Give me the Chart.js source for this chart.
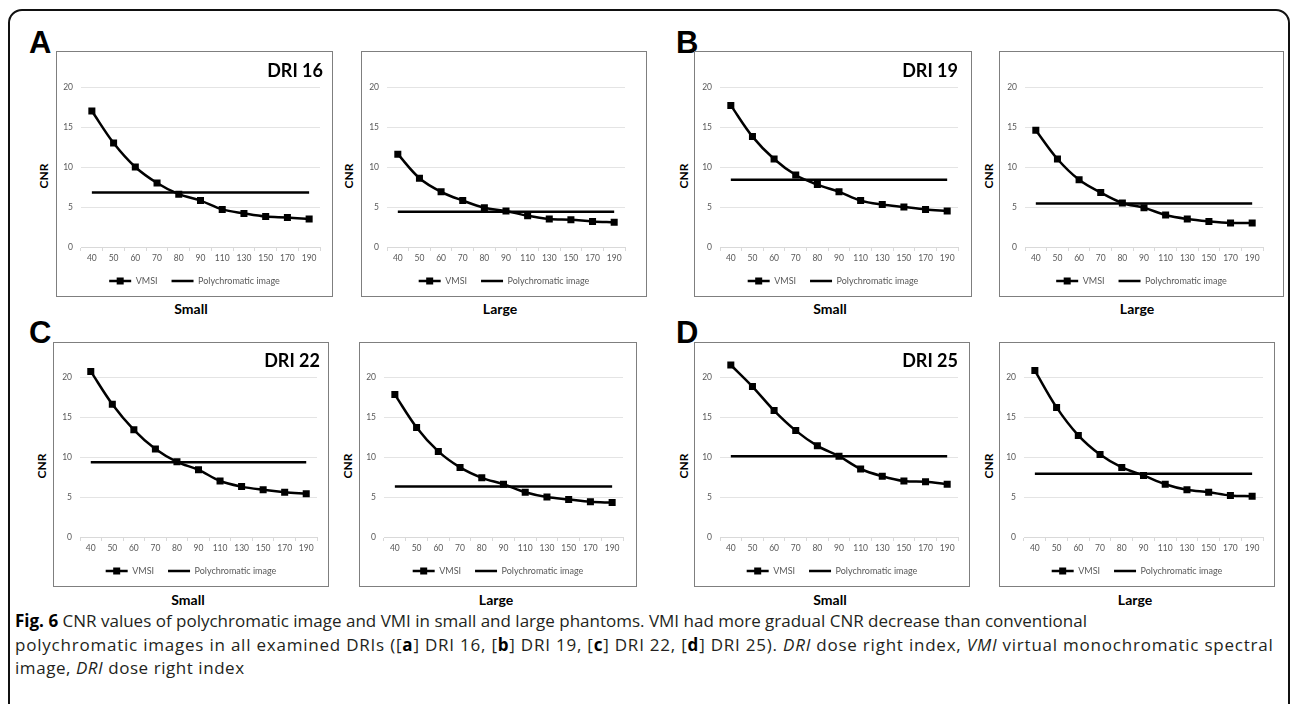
<!DOCTYPE html>
<html>
<head>
<meta charset="utf-8">
<script src="https://cdn.jsdelivr.net/npm/chart.js@4/dist/chart.umd.min.js"></script>
<style>
  body { margin: 0; width: 1292px; height: 704px; position: relative; overflow: hidden; background: #fff; font-family: Lato, sans-serif; }
  .frame { position: absolute; left: 8px; top: 9px; width: 1282px; height: 740px; border: 2px solid #111; border-radius: 14px; box-sizing: border-box; }
  .box { position: absolute; border: 1px solid #7f7f7f; box-sizing: border-box; background: #fff; }
  .box canvas { position: absolute; left: 0; top: 0; }
  .letter { position: absolute; font: bold 31px "Liberation Sans", Arial, sans-serif; line-height: 31px; color: #000; }
  .dri { position: absolute; width: 120px; font: bold 18px Lato; line-height: 18px; text-align: right; color: #000; white-space: nowrap; }
  .cnr { position: absolute; width: 40px; height: 16px; font: bold 12px Lato; line-height: 16px; text-align: center; color: #000; transform: rotate(-90deg); }
  .size { position: absolute; width: 100px; font: bold 14px Lato; line-height: 14px; text-align: center; color: #000; }
  .caption { position: absolute; left: 15px; top: 609px; font: 17px "Open Sans", sans-serif; line-height: 23.5px; color: #231f20; white-space: nowrap; }
  .caption b { color: #000; }
</style>
</head>
<body>
<div class="frame"></div>

<div class="letter" style="left:29px;top:27px">A</div>
<div class="letter" style="left:676px;top:27px">B</div>
<div class="letter" style="left:29px;top:317px">C</div>
<div class="letter" style="left:676px;top:317px">D</div>

<div class="caption">
  <div><b>Fig. 6</b> CNR values of polychromatic image and VMI in small and large phantoms. VMI had more gradual CNR decrease than conventional</div>
  <div style="letter-spacing:0.78px">polychromatic images in all examined DRIs ([<b>a</b>] DRI 16, [<b>b</b>] DRI 19, [<b>c</b>] DRI 22, [<b>d</b>] DRI 25). <i>DRI</i> dose right index, <i>VMI</i> virtual monochromatic spectral</div>
  <div style="letter-spacing:0.55px">image, <i>DRI</i> dose right index</div>
</div>

<script>
// keV levels on the x axis
const energies = ['40', '50', '60', '70', '80', '90', '110', '130', '150', '170', '190'];
const cnrTicks = [0, 5, 10, 15, 20];

// VMSI CNR, small / large phantom, per DRI
const vmsiSmall16 = [17.0, 13.0, 10.0, 8.0, 6.6, 5.8, 4.7, 4.2, 3.8, 3.7, 3.5];
const vmsiLarge16 = [11.6, 8.6, 6.9, 5.8, 4.9, 4.5, 3.9, 3.5, 3.4, 3.2, 3.1];
const vmsiSmall19 = [17.7, 13.8, 11.0, 9.0, 7.8, 6.9, 5.8, 5.3, 5.0, 4.7, 4.5];
const vmsiLarge19 = [14.6, 11.0, 8.4, 6.8, 5.5, 4.9, 4.0, 3.5, 3.2, 3.0, 3.0];
const vmsiSmall22 = [20.7, 16.6, 13.4, 11.0, 9.4, 8.4, 7.0, 6.3, 5.9, 5.6, 5.4];
const vmsiLarge22 = [17.8, 13.7, 10.7, 8.7, 7.4, 6.6, 5.6, 5.0, 4.7, 4.4, 4.3];
const vmsiSmall25 = [21.5, 18.8, 15.8, 13.3, 11.4, 10.1, 8.5, 7.6, 7.0, 6.9, 6.6];
const vmsiLarge25 = [20.8, 16.2, 12.7, 10.3, 8.7, 7.7, 6.6, 5.9, 5.6, 5.2, 5.1];

// polychromatic image CNR (one value, same at every keV)
const polySmall16 = [6.8, 6.8, 6.8, 6.8, 6.8, 6.8, 6.8, 6.8, 6.8, 6.8, 6.8];
const polyLarge16 = [4.4, 4.4, 4.4, 4.4, 4.4, 4.4, 4.4, 4.4, 4.4, 4.4, 4.4];
const polySmall19 = [8.4, 8.4, 8.4, 8.4, 8.4, 8.4, 8.4, 8.4, 8.4, 8.4, 8.4];
const polyLarge19 = [5.45, 5.45, 5.45, 5.45, 5.45, 5.45, 5.45, 5.45, 5.45, 5.45, 5.45];
const polySmall22 = [9.35, 9.35, 9.35, 9.35, 9.35, 9.35, 9.35, 9.35, 9.35, 9.35, 9.35];
const polyLarge22 = [6.3, 6.3, 6.3, 6.3, 6.3, 6.3, 6.3, 6.3, 6.3, 6.3, 6.3];
const polySmall25 = [10.1, 10.1, 10.1, 10.1, 10.1, 10.1, 10.1, 10.1, 10.1, 10.1, 10.1];
const polyLarge25 = [7.9, 7.9, 7.9, 7.9, 7.9, 7.9, 7.9, 7.9, 7.9, 7.9, 7.9];

const panelTitles = ['DRI 16', '', 'DRI 19', '', 'DRI 22', '', 'DRI 25', ''];
const phantomNames = ['Small', 'Large', 'Small', 'Large', 'Small', 'Large', 'Small', 'Large'];

// layout: box [left, top, right, bottom], plot x range, label positions
const boxes = [
  [56, 51, 332, 296], [361, 51, 646, 296], [694, 51, 971, 296], [999, 51, 1283, 296],
  [53, 342, 328, 586], [359, 342, 636, 586], [694, 342, 969, 586], [999, 342, 1274, 586]
];
const plotX = [
  [81, 320], [387, 625], [720, 958], [1025, 1263],
  [80, 317], [384, 623], [720, 958], [1024, 1263]
];
const cnrX = [44, 349, 684, 989, 42, 348, 684, 989];
const titleRight = [323, 0, 958, 0, 320, 0, 958, 0];
const nameX = [191, 500, 830, 1137, 188, 496, 830, 1135];
const rowY = [{ y20: 87, y0: 247, title: 61, cnr: 176, name: 302 }, { y20: 377, y0: 537, title: 351, cnr: 466, name: 593 }];

const yMax = 22.5; // room above the top tick for values past 20
const xAxisHeight = 15.5;
const legendHeight = 33; // font 9 + padding 14 + 10
const legendLine = 22;

// square marker on the VMSI legend line
const legendMarker = {
  id: 'legendMarker',
  afterDraw(chart) {
    const hb = chart.legend.legendHitBoxes[0];
    const ctx = chart.ctx;
    ctx.save();
    ctx.fillStyle = '#000';
    ctx.fillRect(hb.left + legendLine / 2 - 3.5, hb.top + 4.5 - 3.5, 7, 7);
    ctx.restore();
  }
};

function addDiv(cls, text, style) {
  const d = document.createElement('div');
  d.className = cls;
  d.textContent = text;
  Object.assign(d.style, style);
  document.body.append(d);
}

function makeChart(i, vmsi, poly) {
  const [l, t, r, b] = boxes[i];
  const row = rowY[i < 4 ? 0 : 1];
  const w = r - l - 1, h = b - t - 1;
  const box = document.createElement('div');
  box.className = 'box';
  Object.assign(box.style, { left: l + 'px', top: t + 'px', width: (r - l + 1) + 'px', height: (b - t + 1) + 'px' });
  const canvas = document.createElement('canvas');
  canvas.width = w;
  canvas.height = h;
  box.append(canvas);
  document.body.append(box);

  const unit = (row.y0 - row.y20) / cnrTicks[cnrTicks.length - 1];
  const yWidth = plotX[i][0] - (l + 1);
  const rightPad = w - (plotX[i][1] - (l + 1));
  const padTop = row.y20 - (t + 1) - (yMax - cnrTicks[cnrTicks.length - 1]) * unit;
  const padBottom = h - (row.y0 - (t + 1)) - xAxisHeight - legendHeight;

  new Chart(canvas, {
    type: 'line',
    data: {
      labels: energies,
      datasets: [{
        label: 'VMSI',
        data: vmsi,
        yAxisID: 'y',
        borderColor: '#000',
        backgroundColor: '#000',
        borderWidth: 2.5,
        tension: 0.35,
        pointStyle: 'rect',
        pointRadius: 3.2,
        pointBorderWidth: 2.5,
        pointBorderColor: '#000',
        pointBackgroundColor: '#000',
        clip: false
      }, {
        label: 'Polychromatic image',
        data: poly,
        yAxisID: 'y',
        borderColor: '#000',
        backgroundColor: '#000',
        borderWidth: 2.5,
        pointRadius: 0,
        pointBorderWidth: 2.5,
        pointBorderColor: '#000'
      }]
    },
    options: {
      responsive: false,
      animation: false,
      devicePixelRatio: 1,
      layout: { padding: { top: padTop, bottom: padBottom, left: 0, right: 0 } },
      scales: {
        x: {
          offset: true,
          grid: { display: true, drawOnChartArea: false, drawTicks: true, tickLength: 4, offset: true, color: '#d9d9d9' },
          border: { display: true, color: '#d9d9d9' },
          ticks: { padding: 2, color: '#595959', font: { family: 'Lato', size: 8.5 }, maxRotation: 0, autoSkip: false },
          afterFit(s) { s.height = xAxisHeight; }
        },
        y: {
          min: cnrTicks[0],
          max: yMax,
          afterBuildTicks(s) { s.ticks = cnrTicks.map(v => ({ value: v })); },
          grid: { color: '#e4e4e4', drawTicks: false },
          border: { display: false },
          ticks: { padding: 8, color: '#595959', font: { family: 'Lato', size: 8.5 } },
          afterFit(s) { s.width = yWidth; }
        },
        y2: {
          position: 'right',
          grid: { display: false },
          border: { display: false },
          ticks: { display: false },
          afterFit(s) { s.width = rightPad; }
        }
      },
      plugins: {
        tooltip: { enabled: false },
        legend: {
          position: 'bottom',
          labels: {
            usePointStyle: true,
            pointStyle: 'line',
            pointStyleWidth: legendLine,
            padding: 14,
            color: '#595959',
            font: { family: 'Lato', size: 9 }
          }
        }
      }
    },
    plugins: [legendMarker]
  });

  if (panelTitles[i]) {
    addDiv('dri', panelTitles[i], { left: (titleRight[i] - 120) + 'px', top: row.title + 'px' });
  }
  addDiv('cnr', 'CNR', { left: (cnrX[i] - 20) + 'px', top: (row.cnr - 8) + 'px' });
  addDiv('size', phantomNames[i], { left: (nameX[i] - 50) + 'px', top: row.name + 'px' });
}

makeChart(0, vmsiSmall16, polySmall16);
makeChart(1, vmsiLarge16, polyLarge16);
makeChart(2, vmsiSmall19, polySmall19);
makeChart(3, vmsiLarge19, polyLarge19);
makeChart(4, vmsiSmall22, polySmall22);
makeChart(5, vmsiLarge22, polyLarge22);
makeChart(6, vmsiSmall25, polySmall25);
makeChart(7, vmsiLarge25, polyLarge25);
</script>
</body>
</html>
